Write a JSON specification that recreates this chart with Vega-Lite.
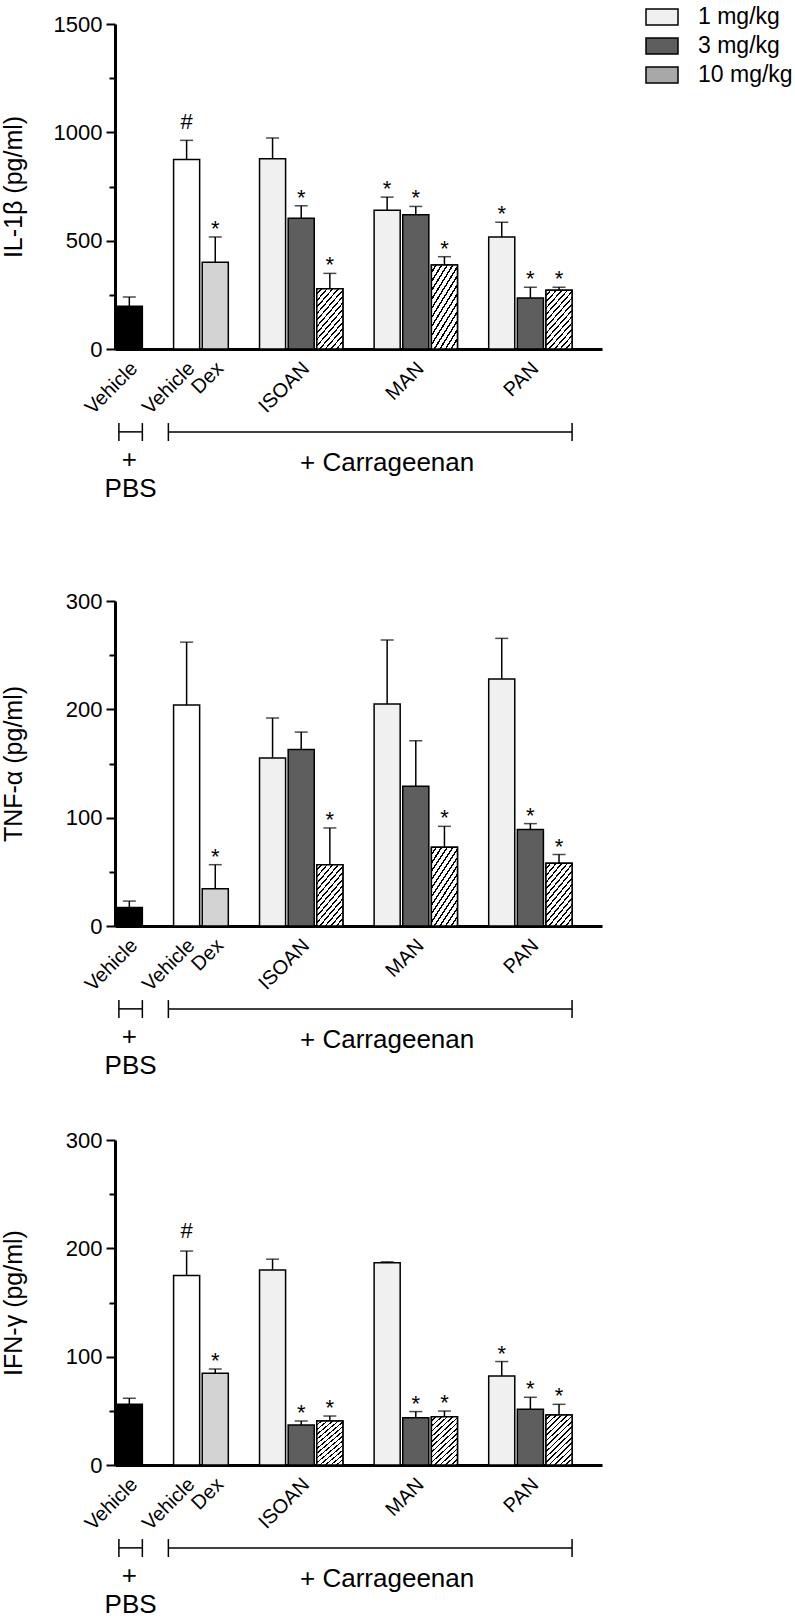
{
  "$schema": "https://vega.github.io/schema/vega-lite/v6.json",
  "background": "white",
  "padding": {"left": 1, "top": 0, "right": 0, "bottom": 0},
  "datasets": {
    "bars": [
      {"cytokine": "IL-1β", "bar": "PBS Vehicle", "group": "PBS", "mean": 197, "upper": 240, "sig": ""},
      {"cytokine": "IL-1β", "bar": "Vehicle", "group": "Vehicle", "mean": 875, "upper": 963, "sig": "#"},
      {"cytokine": "IL-1β", "bar": "Dex", "group": "Dex", "mean": 400, "upper": 517, "sig": "*"},
      {"cytokine": "IL-1β", "bar": "ISOAN 1", "group": "1 mg/kg", "mean": 878, "upper": 974, "sig": ""},
      {"cytokine": "IL-1β", "bar": "ISOAN 3", "group": "3 mg/kg", "mean": 603, "upper": 661, "sig": "*"},
      {"cytokine": "IL-1β", "bar": "ISOAN 10", "group": "10 mg/kg", "mean": 278, "upper": 349, "sig": "*"},
      {"cytokine": "IL-1β", "bar": "MAN 1", "group": "1 mg/kg", "mean": 640, "upper": 701, "sig": "*"},
      {"cytokine": "IL-1β", "bar": "MAN 3", "group": "3 mg/kg", "mean": 620, "upper": 658, "sig": "*"},
      {"cytokine": "IL-1β", "bar": "MAN 10", "group": "10 mg/kg", "mean": 388, "upper": 426, "sig": "*"},
      {"cytokine": "IL-1β", "bar": "PAN 1", "group": "1 mg/kg", "mean": 517, "upper": 585, "sig": "*"},
      {"cytokine": "IL-1β", "bar": "PAN 3", "group": "3 mg/kg", "mean": 235, "upper": 285, "sig": "*"},
      {"cytokine": "IL-1β", "bar": "PAN 10", "group": "10 mg/kg", "mean": 271, "upper": 285, "sig": "*"},
      {"cytokine": "TNF-α", "bar": "PBS Vehicle", "group": "PBS", "mean": 17, "upper": 23, "sig": ""},
      {"cytokine": "TNF-α", "bar": "Vehicle", "group": "Vehicle", "mean": 204, "upper": 262, "sig": ""},
      {"cytokine": "TNF-α", "bar": "Dex", "group": "Dex", "mean": 34.5, "upper": 56.6, "sig": "*"},
      {"cytokine": "TNF-α", "bar": "ISOAN 1", "group": "1 mg/kg", "mean": 155, "upper": 192, "sig": ""},
      {"cytokine": "TNF-α", "bar": "ISOAN 3", "group": "3 mg/kg", "mean": 163, "upper": 179, "sig": ""},
      {"cytokine": "TNF-α", "bar": "ISOAN 10", "group": "10 mg/kg", "mean": 56.6, "upper": 90.5, "sig": "*"},
      {"cytokine": "TNF-α", "bar": "MAN 1", "group": "1 mg/kg", "mean": 205, "upper": 264, "sig": ""},
      {"cytokine": "TNF-α", "bar": "MAN 3", "group": "3 mg/kg", "mean": 129, "upper": 171, "sig": ""},
      {"cytokine": "TNF-α", "bar": "MAN 10", "group": "10 mg/kg", "mean": 72.6, "upper": 92, "sig": "*"},
      {"cytokine": "TNF-α", "bar": "PAN 1", "group": "1 mg/kg", "mean": 228, "upper": 265.5, "sig": ""},
      {"cytokine": "TNF-α", "bar": "PAN 3", "group": "3 mg/kg", "mean": 89, "upper": 94.5, "sig": "*"},
      {"cytokine": "TNF-α", "bar": "PAN 10", "group": "10 mg/kg", "mean": 58, "upper": 66, "sig": "*"},
      {"cytokine": "IFN-γ", "bar": "PBS Vehicle", "group": "PBS", "mean": 56, "upper": 61.6, "sig": ""},
      {"cytokine": "IFN-γ", "bar": "Vehicle", "group": "Vehicle", "mean": 175, "upper": 197.5, "sig": "#"},
      {"cytokine": "IFN-γ", "bar": "Dex", "group": "Dex", "mean": 84.6, "upper": 88.6, "sig": "*"},
      {"cytokine": "IFN-γ", "bar": "ISOAN 1", "group": "1 mg/kg", "mean": 180, "upper": 190, "sig": ""},
      {"cytokine": "IFN-γ", "bar": "ISOAN 3", "group": "3 mg/kg", "mean": 37, "upper": 40.6, "sig": "*"},
      {"cytokine": "IFN-γ", "bar": "ISOAN 10", "group": "10 mg/kg", "mean": 40.6, "upper": 45.2, "sig": "*"},
      {"cytokine": "IFN-γ", "bar": "MAN 1", "group": "1 mg/kg", "mean": 186.8, "upper": 187.5, "sig": ""},
      {"cytokine": "IFN-γ", "bar": "MAN 3", "group": "3 mg/kg", "mean": 43.7, "upper": 49.3, "sig": "*"},
      {"cytokine": "IFN-γ", "bar": "MAN 10", "group": "10 mg/kg", "mean": 44.6, "upper": 49.8, "sig": "*"},
      {"cytokine": "IFN-γ", "bar": "PAN 1", "group": "1 mg/kg", "mean": 82.2, "upper": 95.5, "sig": "*"},
      {"cytokine": "IFN-γ", "bar": "PAN 3", "group": "3 mg/kg", "mean": 51.4, "upper": 62.5, "sig": "*"},
      {"cytokine": "IFN-γ", "bar": "PAN 10", "group": "10 mg/kg", "mean": 46.2, "upper": 56, "sig": "*"}
    ]
  },
  "vconcat": [
    {
      "width": 487, "height": 325,
      "layer": [
        {
          "data": {"name": "bars"},
          "transform": [{"filter": "datum.cytokine === 'IL-1β'"}],
          "layer": [
            {"mark": {"type": "bar", "stroke": "black", "strokeWidth": 1.5},
             "encoding": {
               "x": {"field": "bar", "type": "nominal", "scale": {"domain": ["PBS Vehicle","gap1","Vehicle","Dex","gap2","ISOAN 1","ISOAN 3","ISOAN 10","gap3","MAN 1","MAN 3","MAN 10","gap4","PAN 1","PAN 3","PAN 10","gap5"], "paddingInner": 0.09, "paddingOuter": 0.045},
                     "axis": {"title": null, "ticks": false, "labelAngle": -45, "labelAlign": "right", "labelBaseline": "middle", "labelPadding": 16, "labelOffset": 5, "labelFontSize": 20, "labelOverlap": false, "labelBound": false, "labelFlush": false, "domainWidth": 3, "domainColor": "black",
                              "labelExpr": "datum.value === 'PBS Vehicle' || datum.value === 'Vehicle' ? 'Vehicle' : datum.value === 'Dex' ? 'Dex' : datum.value === 'ISOAN 3' ? 'ISOAN' : datum.value === 'MAN 3' ? 'MAN' : datum.value === 'PAN 3' ? 'PAN' : ''"}},
               "y": {"field": "mean", "type": "quantitative", "scale": {"domain": [0, 1500], "nice": false},
                     "axis": {"title": "IL-1β (pg/ml)", "titleX": -89, "titleFontSize": 25, "titleFontWeight": "normal", "values": [0,250,500,750,1000,1250,1500], "format": "d", "labelExpr": "datum.value % 500 === 0 ? datum.label : ''", "labelFontSize": 22, "labelPadding": 4, "tickSize": {"condition": {"test": "datum.value % 500 === 0", "value": 9}, "value": 6}, "tickWidth": 2, "domainWidth": 3, "domainColor": "black", "grid": false}},
               "fill": {"field": "group", "type": "nominal", "scale": {"domain": ["PBS","Vehicle","Dex","1 mg/kg","3 mg/kg","10 mg/kg"], "range": ["#000000","#ffffff","#d3d3d3","#f0f0f0","#5e5e5e","#a8a8a8"]},
                        "legend": {"title": null, "values": ["1 mg/kg","3 mg/kg","10 mg/kg"], "orient": "none", "legendX": 530, "legendY": -24, "symbolType": "M-1,-0.5H1V0.5H-1Z", "symbolSize": 1024, "symbolStrokeColor": "black", "symbolStrokeWidth": 1.5, "labelFontSize": 23, "labelOffset": 19, "rowPadding": 0, "padding": 0, "labelColor": "black"}}
             }},
            {"transform": [{"filter": "datum.group === '10 mg/kg'"}],
             "mark": {"type": "bar", "stroke": "black", "strokeWidth": 1.5,
                      "fill": {"gradient": "linear", "x1": 0, "y1": 0, "x2": 0.6, "y2": 1.2, "stops": [
                            {"offset": 0, "color": "#ffffff"}, {"offset": 0.05, "color": "#ffffff"}, {"offset": 0.05, "color": "#000000"}, {"offset": 0.0714, "color": "#000000"},
                            {"offset": 0.0714, "color": "#ffffff"}, {"offset": 0.1214, "color": "#ffffff"}, {"offset": 0.1214, "color": "#000000"}, {"offset": 0.1429, "color": "#000000"},
                            {"offset": 0.1429, "color": "#ffffff"}, {"offset": 0.1929, "color": "#ffffff"}, {"offset": 0.1929, "color": "#000000"}, {"offset": 0.2143, "color": "#000000"},
                            {"offset": 0.2143, "color": "#ffffff"}, {"offset": 0.2643, "color": "#ffffff"}, {"offset": 0.2643, "color": "#000000"}, {"offset": 0.2857, "color": "#000000"},
                            {"offset": 0.2857, "color": "#ffffff"}, {"offset": 0.3357, "color": "#ffffff"}, {"offset": 0.3357, "color": "#000000"}, {"offset": 0.3571, "color": "#000000"},
                            {"offset": 0.3571, "color": "#ffffff"}, {"offset": 0.4071, "color": "#ffffff"}, {"offset": 0.4071, "color": "#000000"}, {"offset": 0.4286, "color": "#000000"},
                            {"offset": 0.4286, "color": "#ffffff"}, {"offset": 0.4786, "color": "#ffffff"}, {"offset": 0.4786, "color": "#000000"}, {"offset": 0.5, "color": "#000000"},
                            {"offset": 0.5, "color": "#ffffff"}, {"offset": 0.55, "color": "#ffffff"}, {"offset": 0.55, "color": "#000000"}, {"offset": 0.5714, "color": "#000000"},
                            {"offset": 0.5714, "color": "#ffffff"}, {"offset": 0.6214, "color": "#ffffff"}, {"offset": 0.6214, "color": "#000000"}, {"offset": 0.6429, "color": "#000000"},
                            {"offset": 0.6429, "color": "#ffffff"}, {"offset": 0.6929, "color": "#ffffff"}, {"offset": 0.6929, "color": "#000000"}, {"offset": 0.7143, "color": "#000000"},
                            {"offset": 0.7143, "color": "#ffffff"}, {"offset": 0.7643, "color": "#ffffff"}, {"offset": 0.7643, "color": "#000000"}, {"offset": 0.7857, "color": "#000000"},
                            {"offset": 0.7857, "color": "#ffffff"}, {"offset": 0.8357, "color": "#ffffff"}, {"offset": 0.8357, "color": "#000000"}, {"offset": 0.8571, "color": "#000000"},
                            {"offset": 0.8571, "color": "#ffffff"}, {"offset": 0.9071, "color": "#ffffff"}, {"offset": 0.9071, "color": "#000000"}, {"offset": 0.9286, "color": "#000000"},
                            {"offset": 0.9286, "color": "#ffffff"}, {"offset": 0.9786, "color": "#ffffff"}, {"offset": 0.9786, "color": "#000000"}, {"offset": 1, "color": "#000000"}
                          ]}},
             "encoding": {"x": {"field": "bar", "type": "nominal", "scale": {"domain": ["PBS Vehicle","gap1","Vehicle","Dex","gap2","ISOAN 1","ISOAN 3","ISOAN 10","gap3","MAN 1","MAN 3","MAN 10","gap4","PAN 1","PAN 3","PAN 10","gap5"]}},
                          "y": {"field": "mean", "type": "quantitative", "scale": {"domain": [0, 1500], "nice": false}}}},
            {"mark": {"type": "rule", "color": "black", "strokeWidth": 1.5},
             "encoding": {"x": {"field": "bar", "type": "nominal", "scale": {"domain": ["PBS Vehicle","gap1","Vehicle","Dex","gap2","ISOAN 1","ISOAN 3","ISOAN 10","gap3","MAN 1","MAN 3","MAN 10","gap4","PAN 1","PAN 3","PAN 10","gap5"]}},
                          "y": {"field": "mean", "type": "quantitative", "scale": {"domain": [0, 1500], "nice": false}}, "y2": {"field": "upper"}}},
            {"mark": {"type": "tick", "orient": "horizontal", "color": "black", "size": 13, "thickness": 1.5},
             "encoding": {"x": {"field": "bar", "type": "nominal", "scale": {"domain": ["PBS Vehicle","gap1","Vehicle","Dex","gap2","ISOAN 1","ISOAN 3","ISOAN 10","gap3","MAN 1","MAN 3","MAN 10","gap4","PAN 1","PAN 3","PAN 10","gap5"]}},
                          "y": {"field": "upper", "type": "quantitative", "scale": {"domain": [0, 1500], "nice": false}}}},
            {"transform": [{"filter": "datum.sig === '*'"}],
             "mark": {"type": "text", "fontSize": 22, "baseline": "alphabetic", "dy": -1, "color": "black"},
             "encoding": {"x": {"field": "bar", "type": "nominal", "scale": {"domain": ["PBS Vehicle","gap1","Vehicle","Dex","gap2","ISOAN 1","ISOAN 3","ISOAN 10","gap3","MAN 1","MAN 3","MAN 10","gap4","PAN 1","PAN 3","PAN 10","gap5"]}},
                          "y": {"field": "upper", "type": "quantitative", "scale": {"domain": [0, 1500], "nice": false}}, "text": {"field": "sig"}}},
            {"transform": [{"filter": "datum.sig === '#'"}],
             "mark": {"type": "text", "fontSize": 22, "baseline": "alphabetic", "dy": -11, "color": "black"},
             "encoding": {"x": {"field": "bar", "type": "nominal", "scale": {"domain": ["PBS Vehicle","gap1","Vehicle","Dex","gap2","ISOAN 1","ISOAN 3","ISOAN 10","gap3","MAN 1","MAN 3","MAN 10","gap4","PAN 1","PAN 3","PAN 10","gap5"]}},
                          "y": {"field": "upper", "type": "quantitative", "scale": {"domain": [0, 1500], "nice": false}}, "text": {"field": "sig"}}}
          ]
        },
        {
          "data": {"values": [{}]},
          "layer": [
            {"mark": {"type": "rule", "color": "black", "strokeWidth": 1.5},
             "encoding": {"x": {"datum": "PBS Vehicle", "type": "nominal", "bandPosition": 0.1}, "x2": {"datum": "PBS Vehicle", "bandPosition": 1.0},
                          "y": {"datum": -0.255, "type": "quantitative", "scale": {"domain": [0, 1], "nice": false, "zero": false}, "axis": null}}},
            {"mark": {"type": "rule", "color": "black", "strokeWidth": 1.5},
             "encoding": {"x": {"datum": "Vehicle", "type": "nominal", "bandPosition": -0.2}, "x2": {"datum": "PAN 10", "bandPosition": 1.0},
                          "y": {"datum": -0.255, "type": "quantitative", "scale": {"domain": [0, 1], "nice": false, "zero": false}, "axis": null}}},
            {"mark": {"type": "rule", "color": "black", "strokeWidth": 1.5},
             "encoding": {"x": {"datum": "PBS Vehicle", "type": "nominal", "bandPosition": 0.1},
                          "y": {"datum": -0.228, "type": "quantitative", "scale": {"domain": [0, 1], "nice": false, "zero": false}, "axis": null}, "y2": {"datum": -0.283}}},
            {"mark": {"type": "rule", "color": "black", "strokeWidth": 1.5},
             "encoding": {"x": {"datum": "PBS Vehicle", "type": "nominal", "bandPosition": 1.0},
                          "y": {"datum": -0.228, "type": "quantitative", "scale": {"domain": [0, 1], "nice": false, "zero": false}, "axis": null}, "y2": {"datum": -0.283}}},
            {"mark": {"type": "rule", "color": "black", "strokeWidth": 1.5},
             "encoding": {"x": {"datum": "Vehicle", "type": "nominal", "bandPosition": -0.2},
                          "y": {"datum": -0.228, "type": "quantitative", "scale": {"domain": [0, 1], "nice": false, "zero": false}, "axis": null}, "y2": {"datum": -0.283}}},
            {"mark": {"type": "rule", "color": "black", "strokeWidth": 1.5},
             "encoding": {"x": {"datum": "PAN 10", "type": "nominal", "bandPosition": 1.0},
                          "y": {"datum": -0.228, "type": "quantitative", "scale": {"domain": [0, 1], "nice": false, "zero": false}, "axis": null}, "y2": {"datum": -0.283}}},
            {"mark": {"type": "text", "fontSize": 26, "baseline": "middle", "align": "center", "color": "black"},
             "encoding": {"x": {"datum": "PBS Vehicle", "type": "nominal", "bandPosition": 0.5},
                          "y": {"datum": -0.342, "type": "quantitative", "scale": {"domain": [0, 1], "nice": false, "zero": false}, "axis": null}, "text": {"value": "+"}}},
            {"mark": {"type": "text", "fontSize": 26, "baseline": "middle", "align": "center", "color": "black"},
             "encoding": {"x": {"datum": "PBS Vehicle", "type": "nominal", "bandPosition": 0.55},
                          "y": {"datum": -0.43, "type": "quantitative", "scale": {"domain": [0, 1], "nice": false, "zero": false}, "axis": null}, "text": {"value": "PBS"}}},
            {"mark": {"type": "text", "fontSize": 26, "baseline": "middle", "align": "center", "color": "black"},
             "encoding": {"x": {"datum": "MAN 1", "type": "nominal", "bandPosition": 0.5},
                          "y": {"datum": -0.35, "type": "quantitative", "scale": {"domain": [0, 1], "nice": false, "zero": false}, "axis": null}, "text": {"value": "+ Carrageenan"}}}
          ]
        }
      ],
      "resolve": {"scale": {"y": "independent"}}
    },
    {"width": 487, "height": 252, "data": {"values": [{}]}, "mark": {"type": "text"}, "encoding": {"text": {"value": ""}}},
    {
      "width": 487, "height": 325,
      "layer": [
        {
          "data": {"name": "bars"},
          "transform": [{"filter": "datum.cytokine === 'TNF-α'"}],
          "layer": [
            {"mark": {"type": "bar", "stroke": "black", "strokeWidth": 1.5},
             "encoding": {
               "x": {"field": "bar", "type": "nominal", "scale": {"domain": ["PBS Vehicle","gap1","Vehicle","Dex","gap2","ISOAN 1","ISOAN 3","ISOAN 10","gap3","MAN 1","MAN 3","MAN 10","gap4","PAN 1","PAN 3","PAN 10","gap5"], "paddingInner": 0.09, "paddingOuter": 0.045},
                     "axis": {"title": null, "ticks": false, "labelAngle": -45, "labelAlign": "right", "labelBaseline": "middle", "labelPadding": 16, "labelOffset": 5, "labelFontSize": 20, "labelOverlap": false, "labelBound": false, "labelFlush": false, "domainWidth": 3, "domainColor": "black",
                              "labelExpr": "datum.value === 'PBS Vehicle' || datum.value === 'Vehicle' ? 'Vehicle' : datum.value === 'Dex' ? 'Dex' : datum.value === 'ISOAN 3' ? 'ISOAN' : datum.value === 'MAN 3' ? 'MAN' : datum.value === 'PAN 3' ? 'PAN' : ''"}},
               "y": {"field": "mean", "type": "quantitative", "scale": {"domain": [0, 300], "nice": false},
                     "axis": {"title": "TNF-α (pg/ml)", "titleX": -89, "titleFontSize": 25, "titleFontWeight": "normal", "values": [0,50,100,150,200,250,300], "format": "d", "labelExpr": "datum.value % 100 === 0 ? datum.label : ''", "labelFontSize": 22, "labelPadding": 4, "tickSize": {"condition": {"test": "datum.value % 100 === 0", "value": 9}, "value": 6}, "tickWidth": 2, "domainWidth": 3, "domainColor": "black", "grid": false}},
               "fill": {"field": "group", "type": "nominal", "scale": {"domain": ["PBS","Vehicle","Dex","1 mg/kg","3 mg/kg","10 mg/kg"], "range": ["#000000","#ffffff","#d3d3d3","#f0f0f0","#5e5e5e","#a8a8a8"]},
                        "legend": {"title": null, "values": ["1 mg/kg","3 mg/kg","10 mg/kg"], "orient": "none", "legendX": 530, "legendY": -24, "symbolType": "M-1,-0.5H1V0.5H-1Z", "symbolSize": 1024, "symbolStrokeColor": "black", "symbolStrokeWidth": 1.5, "labelFontSize": 23, "labelOffset": 19, "rowPadding": 0, "padding": 0, "labelColor": "black"}}
             }},
            {"transform": [{"filter": "datum.group === '10 mg/kg'"}],
             "mark": {"type": "bar", "stroke": "black", "strokeWidth": 1.5,
                      "fill": {"gradient": "linear", "x1": 0, "y1": 0, "x2": 0.6, "y2": 1.2, "stops": [
                            {"offset": 0, "color": "#ffffff"}, {"offset": 0.05, "color": "#ffffff"}, {"offset": 0.05, "color": "#000000"}, {"offset": 0.0714, "color": "#000000"},
                            {"offset": 0.0714, "color": "#ffffff"}, {"offset": 0.1214, "color": "#ffffff"}, {"offset": 0.1214, "color": "#000000"}, {"offset": 0.1429, "color": "#000000"},
                            {"offset": 0.1429, "color": "#ffffff"}, {"offset": 0.1929, "color": "#ffffff"}, {"offset": 0.1929, "color": "#000000"}, {"offset": 0.2143, "color": "#000000"},
                            {"offset": 0.2143, "color": "#ffffff"}, {"offset": 0.2643, "color": "#ffffff"}, {"offset": 0.2643, "color": "#000000"}, {"offset": 0.2857, "color": "#000000"},
                            {"offset": 0.2857, "color": "#ffffff"}, {"offset": 0.3357, "color": "#ffffff"}, {"offset": 0.3357, "color": "#000000"}, {"offset": 0.3571, "color": "#000000"},
                            {"offset": 0.3571, "color": "#ffffff"}, {"offset": 0.4071, "color": "#ffffff"}, {"offset": 0.4071, "color": "#000000"}, {"offset": 0.4286, "color": "#000000"},
                            {"offset": 0.4286, "color": "#ffffff"}, {"offset": 0.4786, "color": "#ffffff"}, {"offset": 0.4786, "color": "#000000"}, {"offset": 0.5, "color": "#000000"},
                            {"offset": 0.5, "color": "#ffffff"}, {"offset": 0.55, "color": "#ffffff"}, {"offset": 0.55, "color": "#000000"}, {"offset": 0.5714, "color": "#000000"},
                            {"offset": 0.5714, "color": "#ffffff"}, {"offset": 0.6214, "color": "#ffffff"}, {"offset": 0.6214, "color": "#000000"}, {"offset": 0.6429, "color": "#000000"},
                            {"offset": 0.6429, "color": "#ffffff"}, {"offset": 0.6929, "color": "#ffffff"}, {"offset": 0.6929, "color": "#000000"}, {"offset": 0.7143, "color": "#000000"},
                            {"offset": 0.7143, "color": "#ffffff"}, {"offset": 0.7643, "color": "#ffffff"}, {"offset": 0.7643, "color": "#000000"}, {"offset": 0.7857, "color": "#000000"},
                            {"offset": 0.7857, "color": "#ffffff"}, {"offset": 0.8357, "color": "#ffffff"}, {"offset": 0.8357, "color": "#000000"}, {"offset": 0.8571, "color": "#000000"},
                            {"offset": 0.8571, "color": "#ffffff"}, {"offset": 0.9071, "color": "#ffffff"}, {"offset": 0.9071, "color": "#000000"}, {"offset": 0.9286, "color": "#000000"},
                            {"offset": 0.9286, "color": "#ffffff"}, {"offset": 0.9786, "color": "#ffffff"}, {"offset": 0.9786, "color": "#000000"}, {"offset": 1, "color": "#000000"}
                          ]}},
             "encoding": {"x": {"field": "bar", "type": "nominal", "scale": {"domain": ["PBS Vehicle","gap1","Vehicle","Dex","gap2","ISOAN 1","ISOAN 3","ISOAN 10","gap3","MAN 1","MAN 3","MAN 10","gap4","PAN 1","PAN 3","PAN 10","gap5"]}},
                          "y": {"field": "mean", "type": "quantitative", "scale": {"domain": [0, 300], "nice": false}}}},
            {"mark": {"type": "rule", "color": "black", "strokeWidth": 1.5},
             "encoding": {"x": {"field": "bar", "type": "nominal", "scale": {"domain": ["PBS Vehicle","gap1","Vehicle","Dex","gap2","ISOAN 1","ISOAN 3","ISOAN 10","gap3","MAN 1","MAN 3","MAN 10","gap4","PAN 1","PAN 3","PAN 10","gap5"]}},
                          "y": {"field": "mean", "type": "quantitative", "scale": {"domain": [0, 300], "nice": false}}, "y2": {"field": "upper"}}},
            {"mark": {"type": "tick", "orient": "horizontal", "color": "black", "size": 13, "thickness": 1.5},
             "encoding": {"x": {"field": "bar", "type": "nominal", "scale": {"domain": ["PBS Vehicle","gap1","Vehicle","Dex","gap2","ISOAN 1","ISOAN 3","ISOAN 10","gap3","MAN 1","MAN 3","MAN 10","gap4","PAN 1","PAN 3","PAN 10","gap5"]}},
                          "y": {"field": "upper", "type": "quantitative", "scale": {"domain": [0, 300], "nice": false}}}},
            {"transform": [{"filter": "datum.sig === '*'"}],
             "mark": {"type": "text", "fontSize": 22, "baseline": "alphabetic", "dy": -1, "color": "black"},
             "encoding": {"x": {"field": "bar", "type": "nominal", "scale": {"domain": ["PBS Vehicle","gap1","Vehicle","Dex","gap2","ISOAN 1","ISOAN 3","ISOAN 10","gap3","MAN 1","MAN 3","MAN 10","gap4","PAN 1","PAN 3","PAN 10","gap5"]}},
                          "y": {"field": "upper", "type": "quantitative", "scale": {"domain": [0, 300], "nice": false}}, "text": {"field": "sig"}}}
          ]
        },
        {
          "data": {"values": [{}]},
          "layer": [
            {"mark": {"type": "rule", "color": "black", "strokeWidth": 1.5},
             "encoding": {"x": {"datum": "PBS Vehicle", "type": "nominal", "bandPosition": 0.1}, "x2": {"datum": "PBS Vehicle", "bandPosition": 1.0},
                          "y": {"datum": -0.255, "type": "quantitative", "scale": {"domain": [0, 1], "nice": false, "zero": false}, "axis": null}}},
            {"mark": {"type": "rule", "color": "black", "strokeWidth": 1.5},
             "encoding": {"x": {"datum": "Vehicle", "type": "nominal", "bandPosition": -0.2}, "x2": {"datum": "PAN 10", "bandPosition": 1.0},
                          "y": {"datum": -0.255, "type": "quantitative", "scale": {"domain": [0, 1], "nice": false, "zero": false}, "axis": null}}},
            {"mark": {"type": "rule", "color": "black", "strokeWidth": 1.5},
             "encoding": {"x": {"datum": "PBS Vehicle", "type": "nominal", "bandPosition": 0.1},
                          "y": {"datum": -0.228, "type": "quantitative", "scale": {"domain": [0, 1], "nice": false, "zero": false}, "axis": null}, "y2": {"datum": -0.283}}},
            {"mark": {"type": "rule", "color": "black", "strokeWidth": 1.5},
             "encoding": {"x": {"datum": "PBS Vehicle", "type": "nominal", "bandPosition": 1.0},
                          "y": {"datum": -0.228, "type": "quantitative", "scale": {"domain": [0, 1], "nice": false, "zero": false}, "axis": null}, "y2": {"datum": -0.283}}},
            {"mark": {"type": "rule", "color": "black", "strokeWidth": 1.5},
             "encoding": {"x": {"datum": "Vehicle", "type": "nominal", "bandPosition": -0.2},
                          "y": {"datum": -0.228, "type": "quantitative", "scale": {"domain": [0, 1], "nice": false, "zero": false}, "axis": null}, "y2": {"datum": -0.283}}},
            {"mark": {"type": "rule", "color": "black", "strokeWidth": 1.5},
             "encoding": {"x": {"datum": "PAN 10", "type": "nominal", "bandPosition": 1.0},
                          "y": {"datum": -0.228, "type": "quantitative", "scale": {"domain": [0, 1], "nice": false, "zero": false}, "axis": null}, "y2": {"datum": -0.283}}},
            {"mark": {"type": "text", "fontSize": 26, "baseline": "middle", "align": "center", "color": "black"},
             "encoding": {"x": {"datum": "PBS Vehicle", "type": "nominal", "bandPosition": 0.5},
                          "y": {"datum": -0.342, "type": "quantitative", "scale": {"domain": [0, 1], "nice": false, "zero": false}, "axis": null}, "text": {"value": "+"}}},
            {"mark": {"type": "text", "fontSize": 26, "baseline": "middle", "align": "center", "color": "black"},
             "encoding": {"x": {"datum": "PBS Vehicle", "type": "nominal", "bandPosition": 0.55},
                          "y": {"datum": -0.43, "type": "quantitative", "scale": {"domain": [0, 1], "nice": false, "zero": false}, "axis": null}, "text": {"value": "PBS"}}},
            {"mark": {"type": "text", "fontSize": 26, "baseline": "middle", "align": "center", "color": "black"},
             "encoding": {"x": {"datum": "MAN 1", "type": "nominal", "bandPosition": 0.5},
                          "y": {"datum": -0.35, "type": "quantitative", "scale": {"domain": [0, 1], "nice": false, "zero": false}, "axis": null}, "text": {"value": "+ Carrageenan"}}}
          ]
        }
      ],
      "resolve": {"scale": {"y": "independent"}}
    },
    {"width": 487, "height": 214, "data": {"values": [{}]}, "mark": {"type": "text"}, "encoding": {"text": {"value": ""}}},
    {
      "width": 487, "height": 325,
      "layer": [
        {
          "data": {"name": "bars"},
          "transform": [{"filter": "datum.cytokine === 'IFN-γ'"}],
          "layer": [
            {"mark": {"type": "bar", "stroke": "black", "strokeWidth": 1.5},
             "encoding": {
               "x": {"field": "bar", "type": "nominal", "scale": {"domain": ["PBS Vehicle","gap1","Vehicle","Dex","gap2","ISOAN 1","ISOAN 3","ISOAN 10","gap3","MAN 1","MAN 3","MAN 10","gap4","PAN 1","PAN 3","PAN 10","gap5"], "paddingInner": 0.09, "paddingOuter": 0.045},
                     "axis": {"title": null, "ticks": false, "labelAngle": -45, "labelAlign": "right", "labelBaseline": "middle", "labelPadding": 16, "labelOffset": 5, "labelFontSize": 20, "labelOverlap": false, "labelBound": false, "labelFlush": false, "domainWidth": 3, "domainColor": "black",
                              "labelExpr": "datum.value === 'PBS Vehicle' || datum.value === 'Vehicle' ? 'Vehicle' : datum.value === 'Dex' ? 'Dex' : datum.value === 'ISOAN 3' ? 'ISOAN' : datum.value === 'MAN 3' ? 'MAN' : datum.value === 'PAN 3' ? 'PAN' : ''"}},
               "y": {"field": "mean", "type": "quantitative", "scale": {"domain": [0, 300], "nice": false},
                     "axis": {"title": "IFN-γ (pg/ml)", "titleX": -89, "titleFontSize": 25, "titleFontWeight": "normal", "values": [0,50,100,150,200,250,300], "format": "d", "labelExpr": "datum.value % 100 === 0 ? datum.label : ''", "labelFontSize": 22, "labelPadding": 4, "tickSize": {"condition": {"test": "datum.value % 100 === 0", "value": 9}, "value": 6}, "tickWidth": 2, "domainWidth": 3, "domainColor": "black", "grid": false}},
               "fill": {"field": "group", "type": "nominal", "scale": {"domain": ["PBS","Vehicle","Dex","1 mg/kg","3 mg/kg","10 mg/kg"], "range": ["#000000","#ffffff","#d3d3d3","#f0f0f0","#5e5e5e","#a8a8a8"]},
                        "legend": {"title": null, "values": ["1 mg/kg","3 mg/kg","10 mg/kg"], "orient": "none", "legendX": 530, "legendY": -24, "symbolType": "M-1,-0.5H1V0.5H-1Z", "symbolSize": 1024, "symbolStrokeColor": "black", "symbolStrokeWidth": 1.5, "labelFontSize": 23, "labelOffset": 19, "rowPadding": 0, "padding": 0, "labelColor": "black"}}
             }},
            {"transform": [{"filter": "datum.group === '10 mg/kg'"}],
             "mark": {"type": "bar", "stroke": "black", "strokeWidth": 1.5,
                      "fill": {"gradient": "linear", "x1": 0, "y1": 0, "x2": 0.6, "y2": 1.2, "stops": [
                            {"offset": 0, "color": "#ffffff"}, {"offset": 0.05, "color": "#ffffff"}, {"offset": 0.05, "color": "#000000"}, {"offset": 0.0714, "color": "#000000"},
                            {"offset": 0.0714, "color": "#ffffff"}, {"offset": 0.1214, "color": "#ffffff"}, {"offset": 0.1214, "color": "#000000"}, {"offset": 0.1429, "color": "#000000"},
                            {"offset": 0.1429, "color": "#ffffff"}, {"offset": 0.1929, "color": "#ffffff"}, {"offset": 0.1929, "color": "#000000"}, {"offset": 0.2143, "color": "#000000"},
                            {"offset": 0.2143, "color": "#ffffff"}, {"offset": 0.2643, "color": "#ffffff"}, {"offset": 0.2643, "color": "#000000"}, {"offset": 0.2857, "color": "#000000"},
                            {"offset": 0.2857, "color": "#ffffff"}, {"offset": 0.3357, "color": "#ffffff"}, {"offset": 0.3357, "color": "#000000"}, {"offset": 0.3571, "color": "#000000"},
                            {"offset": 0.3571, "color": "#ffffff"}, {"offset": 0.4071, "color": "#ffffff"}, {"offset": 0.4071, "color": "#000000"}, {"offset": 0.4286, "color": "#000000"},
                            {"offset": 0.4286, "color": "#ffffff"}, {"offset": 0.4786, "color": "#ffffff"}, {"offset": 0.4786, "color": "#000000"}, {"offset": 0.5, "color": "#000000"},
                            {"offset": 0.5, "color": "#ffffff"}, {"offset": 0.55, "color": "#ffffff"}, {"offset": 0.55, "color": "#000000"}, {"offset": 0.5714, "color": "#000000"},
                            {"offset": 0.5714, "color": "#ffffff"}, {"offset": 0.6214, "color": "#ffffff"}, {"offset": 0.6214, "color": "#000000"}, {"offset": 0.6429, "color": "#000000"},
                            {"offset": 0.6429, "color": "#ffffff"}, {"offset": 0.6929, "color": "#ffffff"}, {"offset": 0.6929, "color": "#000000"}, {"offset": 0.7143, "color": "#000000"},
                            {"offset": 0.7143, "color": "#ffffff"}, {"offset": 0.7643, "color": "#ffffff"}, {"offset": 0.7643, "color": "#000000"}, {"offset": 0.7857, "color": "#000000"},
                            {"offset": 0.7857, "color": "#ffffff"}, {"offset": 0.8357, "color": "#ffffff"}, {"offset": 0.8357, "color": "#000000"}, {"offset": 0.8571, "color": "#000000"},
                            {"offset": 0.8571, "color": "#ffffff"}, {"offset": 0.9071, "color": "#ffffff"}, {"offset": 0.9071, "color": "#000000"}, {"offset": 0.9286, "color": "#000000"},
                            {"offset": 0.9286, "color": "#ffffff"}, {"offset": 0.9786, "color": "#ffffff"}, {"offset": 0.9786, "color": "#000000"}, {"offset": 1, "color": "#000000"}
                          ]}},
             "encoding": {"x": {"field": "bar", "type": "nominal", "scale": {"domain": ["PBS Vehicle","gap1","Vehicle","Dex","gap2","ISOAN 1","ISOAN 3","ISOAN 10","gap3","MAN 1","MAN 3","MAN 10","gap4","PAN 1","PAN 3","PAN 10","gap5"]}},
                          "y": {"field": "mean", "type": "quantitative", "scale": {"domain": [0, 300], "nice": false}}}},
            {"mark": {"type": "rule", "color": "black", "strokeWidth": 1.5},
             "encoding": {"x": {"field": "bar", "type": "nominal", "scale": {"domain": ["PBS Vehicle","gap1","Vehicle","Dex","gap2","ISOAN 1","ISOAN 3","ISOAN 10","gap3","MAN 1","MAN 3","MAN 10","gap4","PAN 1","PAN 3","PAN 10","gap5"]}},
                          "y": {"field": "mean", "type": "quantitative", "scale": {"domain": [0, 300], "nice": false}}, "y2": {"field": "upper"}}},
            {"mark": {"type": "tick", "orient": "horizontal", "color": "black", "size": 13, "thickness": 1.5},
             "encoding": {"x": {"field": "bar", "type": "nominal", "scale": {"domain": ["PBS Vehicle","gap1","Vehicle","Dex","gap2","ISOAN 1","ISOAN 3","ISOAN 10","gap3","MAN 1","MAN 3","MAN 10","gap4","PAN 1","PAN 3","PAN 10","gap5"]}},
                          "y": {"field": "upper", "type": "quantitative", "scale": {"domain": [0, 300], "nice": false}}}},
            {"transform": [{"filter": "datum.sig === '*'"}],
             "mark": {"type": "text", "fontSize": 22, "baseline": "alphabetic", "dy": -1, "color": "black"},
             "encoding": {"x": {"field": "bar", "type": "nominal", "scale": {"domain": ["PBS Vehicle","gap1","Vehicle","Dex","gap2","ISOAN 1","ISOAN 3","ISOAN 10","gap3","MAN 1","MAN 3","MAN 10","gap4","PAN 1","PAN 3","PAN 10","gap5"]}},
                          "y": {"field": "upper", "type": "quantitative", "scale": {"domain": [0, 300], "nice": false}}, "text": {"field": "sig"}}},
            {"transform": [{"filter": "datum.sig === '#'"}],
             "mark": {"type": "text", "fontSize": 22, "baseline": "alphabetic", "dy": -13, "color": "black"},
             "encoding": {"x": {"field": "bar", "type": "nominal", "scale": {"domain": ["PBS Vehicle","gap1","Vehicle","Dex","gap2","ISOAN 1","ISOAN 3","ISOAN 10","gap3","MAN 1","MAN 3","MAN 10","gap4","PAN 1","PAN 3","PAN 10","gap5"]}},
                          "y": {"field": "upper", "type": "quantitative", "scale": {"domain": [0, 300], "nice": false}}, "text": {"field": "sig"}}}
          ]
        },
        {
          "data": {"values": [{}]},
          "layer": [
            {"mark": {"type": "rule", "color": "black", "strokeWidth": 1.5},
             "encoding": {"x": {"datum": "PBS Vehicle", "type": "nominal", "bandPosition": 0.1}, "x2": {"datum": "PBS Vehicle", "bandPosition": 1.0},
                          "y": {"datum": -0.255, "type": "quantitative", "scale": {"domain": [0, 1], "nice": false, "zero": false}, "axis": null}}},
            {"mark": {"type": "rule", "color": "black", "strokeWidth": 1.5},
             "encoding": {"x": {"datum": "Vehicle", "type": "nominal", "bandPosition": -0.2}, "x2": {"datum": "PAN 10", "bandPosition": 1.0},
                          "y": {"datum": -0.255, "type": "quantitative", "scale": {"domain": [0, 1], "nice": false, "zero": false}, "axis": null}}},
            {"mark": {"type": "rule", "color": "black", "strokeWidth": 1.5},
             "encoding": {"x": {"datum": "PBS Vehicle", "type": "nominal", "bandPosition": 0.1},
                          "y": {"datum": -0.228, "type": "quantitative", "scale": {"domain": [0, 1], "nice": false, "zero": false}, "axis": null}, "y2": {"datum": -0.283}}},
            {"mark": {"type": "rule", "color": "black", "strokeWidth": 1.5},
             "encoding": {"x": {"datum": "PBS Vehicle", "type": "nominal", "bandPosition": 1.0},
                          "y": {"datum": -0.228, "type": "quantitative", "scale": {"domain": [0, 1], "nice": false, "zero": false}, "axis": null}, "y2": {"datum": -0.283}}},
            {"mark": {"type": "rule", "color": "black", "strokeWidth": 1.5},
             "encoding": {"x": {"datum": "Vehicle", "type": "nominal", "bandPosition": -0.2},
                          "y": {"datum": -0.228, "type": "quantitative", "scale": {"domain": [0, 1], "nice": false, "zero": false}, "axis": null}, "y2": {"datum": -0.283}}},
            {"mark": {"type": "rule", "color": "black", "strokeWidth": 1.5},
             "encoding": {"x": {"datum": "PAN 10", "type": "nominal", "bandPosition": 1.0},
                          "y": {"datum": -0.228, "type": "quantitative", "scale": {"domain": [0, 1], "nice": false, "zero": false}, "axis": null}, "y2": {"datum": -0.283}}},
            {"mark": {"type": "text", "fontSize": 26, "baseline": "middle", "align": "center", "color": "black"},
             "encoding": {"x": {"datum": "PBS Vehicle", "type": "nominal", "bandPosition": 0.5},
                          "y": {"datum": -0.342, "type": "quantitative", "scale": {"domain": [0, 1], "nice": false, "zero": false}, "axis": null}, "text": {"value": "+"}}},
            {"mark": {"type": "text", "fontSize": 26, "baseline": "middle", "align": "center", "color": "black"},
             "encoding": {"x": {"datum": "PBS Vehicle", "type": "nominal", "bandPosition": 0.55},
                          "y": {"datum": -0.43, "type": "quantitative", "scale": {"domain": [0, 1], "nice": false, "zero": false}, "axis": null}, "text": {"value": "PBS"}}},
            {"mark": {"type": "text", "fontSize": 26, "baseline": "middle", "align": "center", "color": "black"},
             "encoding": {"x": {"datum": "MAN 1", "type": "nominal", "bandPosition": 0.5},
                          "y": {"datum": -0.35, "type": "quantitative", "scale": {"domain": [0, 1], "nice": false, "zero": false}, "axis": null}, "text": {"value": "+ Carrageenan"}}}
          ]
        }
      ],
      "resolve": {"scale": {"y": "independent"}}
    }
  ],
  "spacing": 0,
  "bounds": "flush",
  "resolve": {"scale": {"x": "independent", "y": "independent", "fill": "shared"}, "legend": {"fill": "shared"}},
  "config": {
    "font": "Liberation Sans",
    "view": {"stroke": null},
    "text": {"font": "Liberation Sans"},
    "axis": {"labelColor": "black", "titleColor": "black", "tickColor": "black", "domainColor": "black", "labelFont": "Liberation Sans", "titleFont": "Liberation Sans"},
    "legend": {"labelFont": "Liberation Sans"}
  }
}
